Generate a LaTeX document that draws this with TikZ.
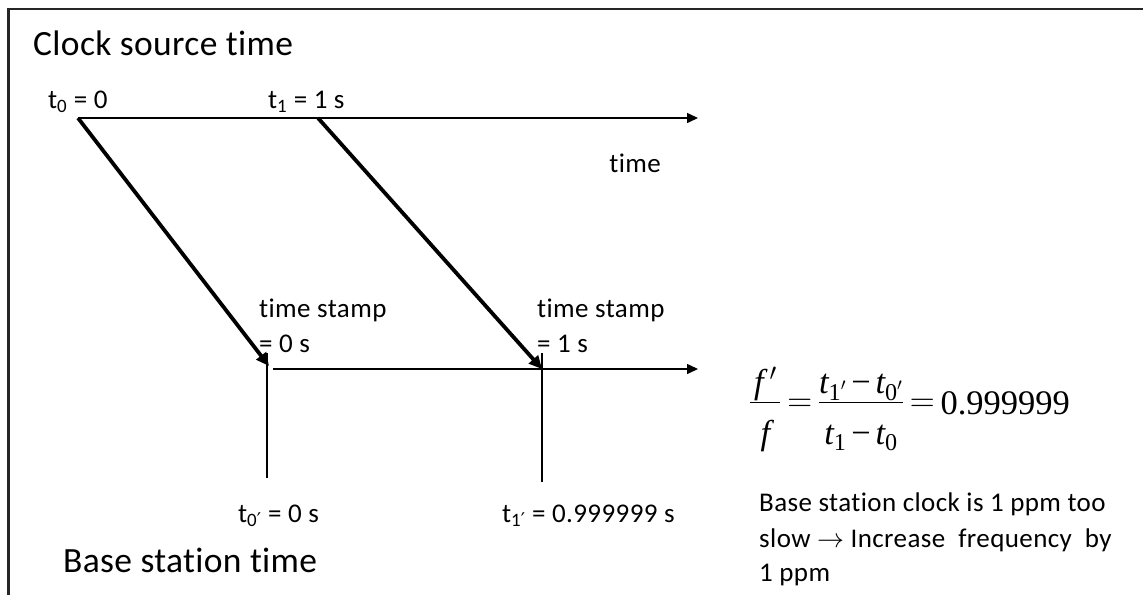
\RequirePackage{fix-cm}
\documentclass[tikz,border=0pt]{standalone}
\usepackage{amsmath}
\usepackage{fontspec}
\setmainfont[Ligatures=NoCommon]{Carlito}
\newfontfamily\lsf[Ligatures=NoCommon,LetterSpace=1.5]{Carlito}
\newfontfamily\hdf[Ligatures=NoCommon,LetterSpace=1]{Carlito}
\newfontfamily\djv{DejaVu Sans}
\newfontfamily\tms{Liberation Serif}
\usetikzlibrary{arrows.meta}
\newcommand{\pr}{{\djv ′}}
\newcommand{\mi}[1]{\text{\tms\itshape #1}}
\newcommand{\mr}[1]{\text{\tms #1}}
\newcommand{\nmr}[1]{\raisebox{-5.4pt}[0pt][0pt]{#1}}
\newcommand{\dnm}[1]{\raisebox{-10.3pt}[0pt][0pt]{#1}}
\begin{document}
\begin{tikzpicture}[x=1pt,y=-1pt,
  heading/.style={anchor=base west, inner sep=0pt, font=\hdf\fontsize{35.5}{42}\selectfont},
  lbl/.style={anchor=base west, inner sep=0pt, font=\lsf\fontsize{27}{32}\selectfont},
  note/.style={anchor=base west, inner sep=0pt, font=\lsf\fontsize{27}{33}\selectfont},
  axis/.style={line width=1.5pt, -{Triangle[length=11pt,width=10pt]}},
  msg/.style={line width=3.8pt, -{Triangle[length=13pt,width=12pt]}},
  tickline/.style={line width=1.3pt},
  frameline/.style={line width=2.5pt, draw=black!85}]
\useasboundingbox (0,0) rectangle (1143,595);
\draw[frameline] (8.5,595) -- (8.5,9) -- (1143,9);

% headings
\node[heading] (hsrc) at (33,55) {Clock source time};
\node[heading] (hbs) at (63,572) {Base station time};

% source axis
\coordinate (s0) at (78,118);
\coordinate (s1) at (318,118);
\coordinate (sEnd) at (698,118);
\draw[axis] (s0) -- (sEnd);
\node[lbl] (lt0) at (48,108) {t\textsubscript{0} = 0};
\node[lbl] (lt1) at (268,108) {t\textsubscript{1} = 1 s};
\node[lbl, anchor=base east] (ltime) at (661,172) {time};

% base station axis
\coordinate (b0) at (273,369);
\coordinate (bEnd) at (698,369);
\draw[axis] (b0) -- (bEnd);
\coordinate (v0t) at (267,353);
\coordinate (v0b) at (267,478);
\coordinate (v1t) at (542,353);
\coordinate (v1b) at (542,482);
\draw[tickline] (v0t) -- (v0b);
\draw[tickline] (v1t) -- (v1b);

% messages
\coordinate (r0) at (269,366);
\coordinate (r1) at (542,369);
\draw[msg] (s0) -- (r0);
\draw[msg] (s1) -- (r1);

% time stamps
\node[lbl] (ts0a) at (259,317) {time stamp};
\node[lbl] (ts0b) at (259,352) {= 0 s};
\node[lbl] (ts1a) at (537,317) {time stamp};
\node[lbl] (ts1b) at (537,352) {= 1 s};

% base station times
\node[lbl] (lb0) at (238,522) {t\textsubscript{0\pr} = 0 s};
\node[lbl] (lb1) at (502,522) {t\textsubscript{1\pr} = 0.999999 s};

% formula
\node[anchor=base west, inner sep=0pt, font=\fontsize{34.5}{40}\selectfont] (eq) at (749,411)
  {\thickmuskip=3mu\medmuskip=2.5mu$\displaystyle
  \frac{\nmr{\makebox[30pt]{$\mi{f}\,'$}}}{\dnm{\makebox[30pt]{$\mi{f}$}}}
  =\frac{\nmr{$\mi{t}_{\mr{1}'}\mathbin{\mr{−}}\mi{t}_{\mr{0}'}$}}{\dnm{$\mi{t}_{\mr{1}}\mathbin{\mr{−}}\mi{t}_{\mr{0}}$}}
  =\raisebox{-3pt}{\mr{0.999999}}$};

% conclusion
\node[note] (c1) at (759,511) {Base station clock is 1 ppm too};
\node[note] (c2) at (759,547) {slow $\rightarrow$ Increase\ \ frequency\ \ by};
\node[note] (c3) at (759,581) {1 ppm};
\end{tikzpicture}
\end{document}
